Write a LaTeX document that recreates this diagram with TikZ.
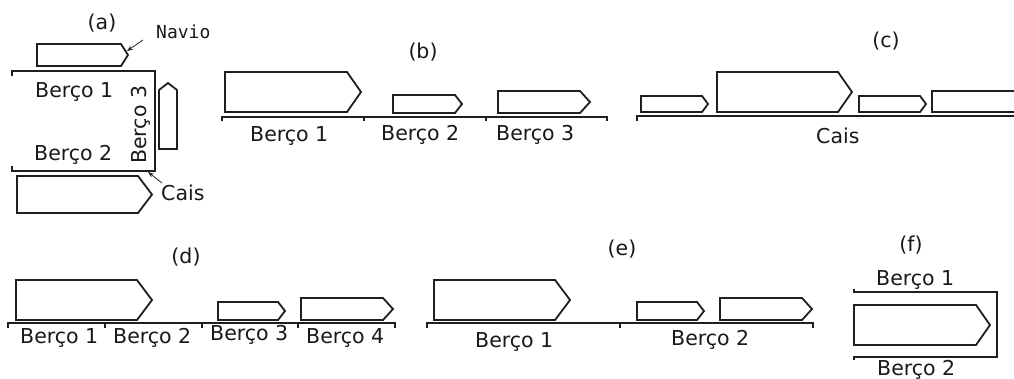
\documentclass[tikz,border=0pt]{standalone}
\usepackage{fontspec}
\setmainfont{DejaVu Sans}
\newfontfamily\navfont{DejaVu Sans Mono}
\usetikzlibrary{arrows.meta}
\newcommand\drawship[5]{\draw[shipline] (#1,#2) -- (#3,#2) -- (#5,{(#2+#4)/2}) -- (#3,#4) -- (#1,#4) -- cycle;}
\begin{document}
\begin{tikzpicture}[x=1pt,y=-1pt,
  shipline/.style={draw=black!88, line width=1.8pt, line join=miter, fill=white},
  quay/.style={draw=black!88, line width=1.8pt},
  lbl/.style={font=\fontsize{20.5}{24}\selectfont, inner sep=0pt, anchor=base west, text=black!90},
  panel/.style={font=\fontsize{20.5}{24}\selectfont, inner sep=0pt, anchor=center, text=black!90},
  arrowline/.style={draw=black!85, line width=0.8pt, -{Stealth[length=6pt,width=4.5pt]}}
]
\useasboundingbox (0,0) rectangle (1014,378);
\clip (0,0) rectangle (1014,378);
\fill[white] (0,0) rectangle (1014,378);

% ---------- (a) ----------
\node[panel] (pa) at (102,23) {(a)};
\drawship{37}{44}{121}{66}{128}
\draw[quay] (12,76) -- (12,71) -- (155,71) -- (155,171) -- (12,171) -- (12,166);
\draw[shipline] (159,149) -- (159,90) -- (168,83) -- (177,90) -- (177,149) -- cycle;
\drawship{17}{176}{138}{213}{152}
\node[lbl] (a1) at (35,97) {Berço 1};
\node[lbl] (a2) at (34,160) {Berço 2};
\node[lbl, rotate=90] (a3) at (146,164) {Berço 3};
\node[lbl, font=\navfont\fontsize{18}{22}\selectfont] (navio) at (156,38) {Navio};
\node[lbl] (acais) at (161,200) {Cais};
\coordinate (navtail) at (143,40);
\coordinate (navhead) at (127,51);
\draw[arrowline] (navtail) -- (navhead);
\coordinate (caistail) at (162,183);
\coordinate (caishead) at (148,172);
\draw[arrowline] (caistail) -- (caishead);

% ---------- (b) ----------
\node[panel] (pb) at (423,52) {(b)};
\drawship{225}{72}{347}{112}{361}
\drawship{393}{95}{455}{113}{462}
\drawship{498}{91}{580}{113}{590}
\draw[quay] (222,121) -- (222,117) -- (607,117) -- (607,121);
\draw[quay] (364,117) -- (364,121);
\draw[quay] (486,117) -- (486,121);
\node[lbl] (b1) at (250,141) {Berço 1};
\node[lbl] (b2) at (381,140) {Berço 2};
\node[lbl] (b3) at (496,140) {Berço 3};

% ---------- (c) ----------
\node[panel] (pc) at (886,41) {(c)};
\drawship{641}{96}{702}{112}{708}
\drawship{717}{72}{838}{112}{852}
\drawship{859}{96}{920}{112}{926}
\draw[shipline] (1020,91) -- (932,91) -- (932,112) -- (1020,112);
\draw[quay] (637,121) -- (637,116) -- (1020,116);
\node[lbl] (ccais) at (816,143) {Cais};

% ---------- (d) ----------
\node[panel] (pd) at (186,257) {(d)};
\drawship{16}{280}{137}{320}{152}
\drawship{218}{302}{278}{320}{285}
\drawship{301}{298}{383}{320}{393}
\draw[quay] (8,328) -- (8,323) -- (395,323) -- (395,328);
\draw[quay] (105,323) -- (105,328);
\draw[quay] (202,323) -- (202,328);
\draw[quay] (298,323) -- (298,328);
\node[lbl] (d1) at (20,343) {Berço 1};
\node[lbl] (d2) at (113,343) {Berço 2};
\node[lbl] (d3) at (210,340) {Berço 3};
\node[lbl] (d4) at (306,343) {Berço 4};

% ---------- (e) ----------
\node[panel] (pe) at (622,249) {(e)};
\drawship{434}{280}{555}{320}{570}
\drawship{637}{302}{697}{320}{704}
\drawship{720}{298}{802}{320}{812}
\draw[quay] (427,328) -- (427,323) -- (813,323) -- (813,328);
\draw[quay] (620,323) -- (620,328);
\node[lbl] (e1) at (475,347) {Berço 1};
\node[lbl] (e2) at (671,345) {Berço 2};

% ---------- (f) ----------
\node[panel] (pf) at (911,245) {(f)};
\node[lbl] (f1) at (876,285) {Berço 1};
\draw[quay] (854,289) -- (854,292) -- (997,292) -- (997,357) -- (854,357) -- (854,360);
\drawship{854}{305}{976}{345}{990}
\node[lbl] (f2) at (877,375) {Berço 2};
\end{tikzpicture}
\end{document}
